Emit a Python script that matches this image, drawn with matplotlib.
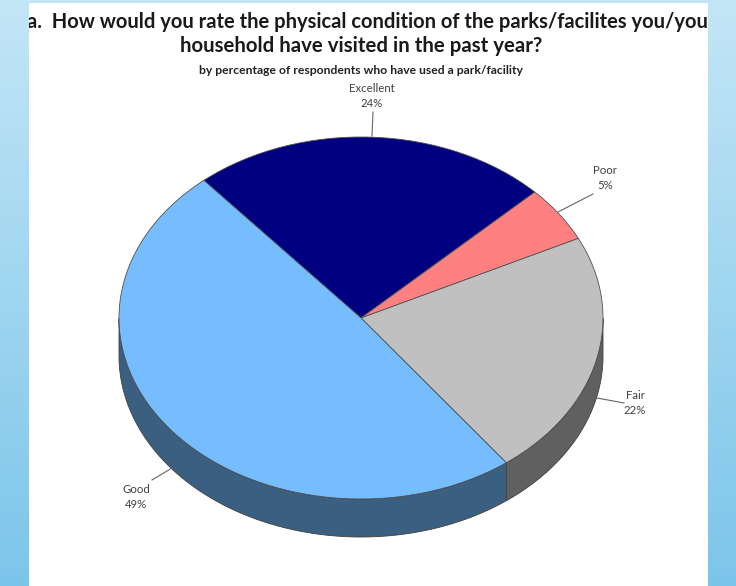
import numpy as np
import matplotlib
matplotlib.use("Agg")
import matplotlib.pyplot as plt
from matplotlib.colors import LinearSegmentedColormap
from matplotlib.patches import Rectangle

W, H = 736, 586

labels = ["Excellent", "Poor", "Fair", "Good"]
values = [24, 5, 22, 49]
top_colors = ["#000080", "#ff8080", "#c0c0c0", "#75bdff"]
side_colors = ["#000040", "#804040", "#606060", "#3a5f80"]
title_lines = ["a.  How would you rate the physical condition of the parks/facilites you/your",
               "household have visited in the past year?"]
subtitle = "by percentage of respondents who have used a park/facility"

start = 130.5
cx, cy, rx, ry, depth = 361, 318, 242, 181, 38

fig = plt.figure(figsize=(W / 100, H / 100), dpi=100)

# background + white slide area, in pixel coords
bg = fig.add_axes([0, 0, 1, 1])
bg.set_xlim(0, W)
bg.set_ylim(H, 0)
bg.axis("off")
cmap = LinearSegmentedColormap.from_list("slide", ["#c3e6f6", "#7cc5ea"])
bg.imshow(np.linspace(0, 1, 256).reshape(-1, 1), cmap=cmap, aspect="auto", extent=[0, W, H, 0])
page = Rectangle((29, 3), 679, H - 3, color="white", lw=0)
bg.add_patch(page)

# pie is squashed by letting the axes be wider than tall
ax = fig.add_axes([(cx - 1.25 * rx) / W, 1 - (cy + 1.25 * ry) / H, 2.5 * rx / W, 2.5 * ry / H])
ax.patch.set_alpha(0)
d = depth / ry

# side wall, only the part facing front
ang = start
for val, col in zip(values, side_colors):
    a0, a1 = ang - val * 3.6, ang
    ang = a0
    t = np.radians(np.linspace(a0, a1, 200))
    t = t[np.sin(t) <= 0]
    if len(t) == 0:
        continue
    xs = np.concatenate([np.cos(t), np.cos(t[::-1])])
    ys = np.concatenate([np.sin(t), np.sin(t[::-1]) - d])
    ax.fill(xs, ys, facecolor=col, edgecolor="#404040", lw=0.6, clip_on=False)

ax.pie(values, startangle=start, counterclock=False, colors=top_colors,
       wedgeprops={"edgecolor": "#505050", "linewidth": 0.6})
ax.set_aspect("auto")
ax.set_xlim(-1.25, 1.25)
ax.set_ylim(-1.25, 1.25)

# overlay for text
top = fig.add_axes([0, 0, 1, 1])
top.set_xlim(0, W)
top.set_ylim(H, 0)
top.axis("off")
top.patch.set_alpha(0)

# first title line runs off the white area in the original
clip = Rectangle((29, 3), 679, H - 3, transform=top.transData)
t1 = top.text(27, 22, title_lines[0], fontsize=14.5, fontweight="bold", family="Lato",
              color="#1a1a1a", va="center", ha="left")
t1.set_clip_path(clip)
t1.set_clip_on(True)
top.text(361.5, 46, title_lines[1], fontsize=14.7, fontweight="bold", family="Lato",
         color="#1a1a1a", va="center", ha="center")
top.text(361, 70.5, subtitle, fontsize=8.7, fontweight="bold", family="Lato",
         color="#222222", va="center", ha="center")

label_pos = {"Excellent": (371.5, 96), "Poor": (605, 178), "Fair": (635, 403), "Good": (136, 497)}
leader_lines = {"Excellent": ((373, 112), (372, 136)),
                "Poor": ((593, 194), (558, 212)),
                "Fair": ((624, 403), (597, 398)),
                "Good": ((152, 480), (172, 468))}
for lab, val in zip(labels, values):
    x, y = label_pos[lab]
    top.text(x, y, f"{lab}\n{val}%", fontsize=8.2, family="Lato", color="#404040",
             ha="center", va="center", linespacing=1.5)
    p, q = leader_lines[lab]
    top.plot([p[0], q[0]], [p[1], q[1]], color="#666666", lw=0.8)

fig.savefig("out.png", dpi=100)
